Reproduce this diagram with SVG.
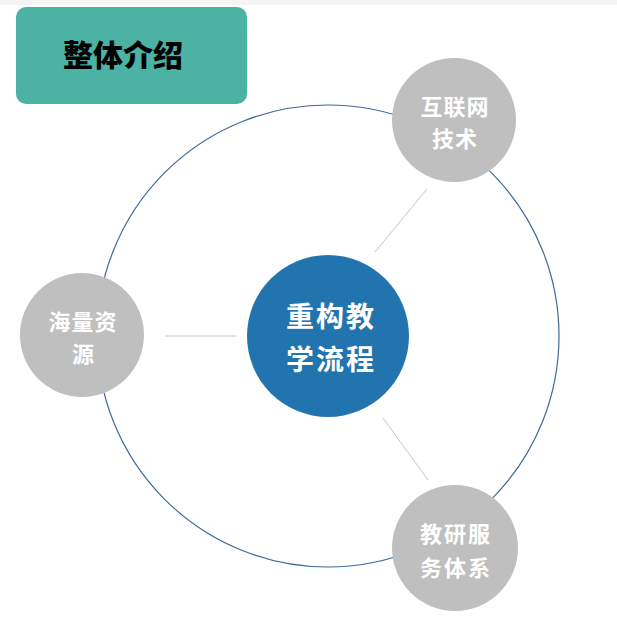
<svg xmlns="http://www.w3.org/2000/svg" width="617" height="644" viewBox="0 0 617 644">
<style>
.sat{fill:#bfbfbf}
.lbl{font-family:"Noto Sans CJK SC","Noto Sans",sans-serif;font-weight:bold;fill:#ffffff;text-anchor:middle;dominant-baseline:central}
.conn{stroke:#c6c6c6;stroke-width:1;fill:none}
</style>
<rect x="0" y="0" width="617" height="644" fill="#ffffff"/>
<rect x="0" y="0" width="617" height="5" fill="#f4f4f4"/>
<g id="title">
<rect x="16" y="7" width="231" height="97" rx="10" fill="#4cb2a4"/>
<text x="123" y="53" font-family="Noto Sans CJK SC,sans-serif" font-weight="900" font-size="30" fill="#000000" text-anchor="middle" dominant-baseline="central">整体介绍</text>
</g>
<g id="ring">
<circle cx="328" cy="336" r="231" fill="none" stroke="#3d6b99" stroke-width="1.2"/>
</g>
<g id="connectors">
<line class="conn" x1="165" y1="336" x2="236" y2="336"/>
<line class="conn" x1="375" y1="252" x2="427" y2="189"/>
<line class="conn" x1="383" y1="418" x2="428" y2="480"/>
</g>
<g id="center">
<circle cx="328" cy="336" r="81" fill="#2174ae"/>
<text class="lbl" x="331" y="315" font-size="28" letter-spacing="2">重构教</text>
<text class="lbl" x="331" y="358" font-size="28" letter-spacing="2">学流程</text>
</g>
<g id="node-internet">
<circle class="sat" cx="454" cy="120" r="62"/>
<text class="lbl" x="455" y="105" font-size="22" letter-spacing="1">互联网</text>
<text class="lbl" x="455" y="137" font-size="22" letter-spacing="1">技术</text>
</g>
<g id="node-resources">
<circle class="sat" cx="82" cy="335" r="62"/>
<text class="lbl" x="83" y="320" font-size="22" letter-spacing="1">海量资</text>
<text class="lbl" x="83" y="352" font-size="22">源</text>
</g>
<g id="node-service">
<circle class="sat" cx="455" cy="548" r="63"/>
<text class="lbl" x="456" y="532" font-size="22" letter-spacing="2">教研服</text>
<text class="lbl" x="456" y="566" font-size="22" letter-spacing="2">务体系</text>
</g>
</svg>
